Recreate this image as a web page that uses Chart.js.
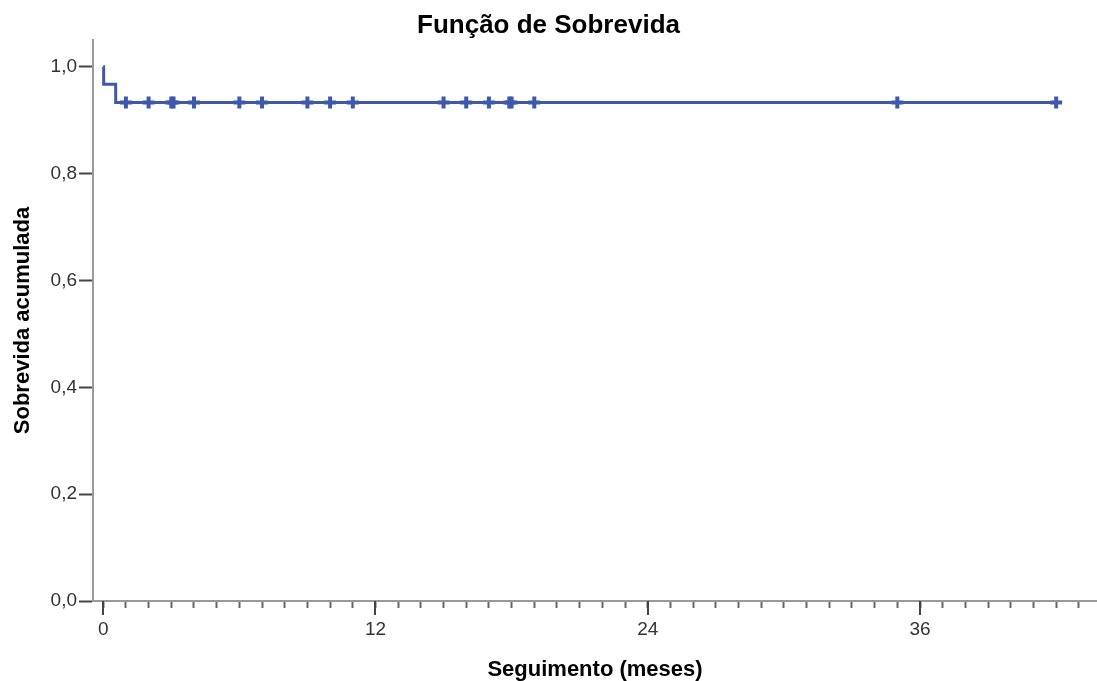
<!DOCTYPE html>
<html>
<head>
<meta charset="utf-8">
<script src="https://cdn.jsdelivr.net/npm/chart.js@4"></script>
<style>
  html, body { margin: 0; padding: 0; background: #fff; }
  #wrap { width: 1097px; height: 681px; }
</style>
</head>
<body>
<div id="wrap"><canvas id="kmChart"></canvas></div>
<script>
// Kaplan-Meier curve (time in months, cumulative survival)
const kmTimes = [0, 0.02, 0.55, 42];
const kmSurvival = [1.0, 0.967, 0.933, 0.933];

// censored observations (+ marks)
const censorTimes = [1, 2, 3, 3.1, 4, 6, 7, 9, 10, 11, 15, 16, 17, 17.9, 18, 19, 35, 42];
const censorSurvival = 0.933;

// axis ticks
const xMajorTicks = [0, 12, 24, 36];
const xMinorMax = 43;
const yTicks = [0, 0.2, 0.4, 0.6, 0.8, 1.0];

const fontFamily = "'Liberation Sans', Arial, sans-serif";
const blue = "#3e58ac";

const majorTickPlugin = {
  id: "majorTicks",
  afterDraw(chart) {
    const sx = chart.scales.x;
    const ctx = chart.ctx;
    ctx.save();
    ctx.strokeStyle = "#444";
    ctx.lineWidth = 2;
    ctx.beginPath();
    xMajorTicks.forEach(v => {
      const px = Math.round(sx.getPixelForValue(v));
      ctx.moveTo(px, sx.top);
      ctx.lineTo(px, sx.top + 14);
    });
    ctx.stroke();
    ctx.restore();
  }
};

new Chart(document.getElementById("kmChart"), {
  type: "scatter",
  data: {
    datasets: [
      {
        type: "line",
        label: "Sobrevida",
        data: kmTimes.map((t, i) => ({ x: t, y: kmSurvival[i] })),
        stepped: "before",
        borderColor: blue,
        borderWidth: 3,
        pointRadius: 0,
        fill: false
      },
      {
        label: "Censurado",
        data: censorTimes.map(t => ({ x: t, y: censorSurvival })),
        pointStyle: "cross",
        pointRadius: 6,
        pointBorderWidth: 4,
        borderColor: blue,
        backgroundColor: blue
      }
    ]
  },
  options: {
    responsive: true,
    maintainAspectRatio: false,
    animation: false,
    layout: { padding: 0, autoPadding: false },
    plugins: {
      legend: { display: false },
      tooltip: { enabled: false },
      title: {
        display: true,
        text: "Função de Sobrevida",
        color: "#000",
        font: { family: fontFamily, size: 26, weight: "bold", lineHeight: 1 },
        padding: { top: 13, bottom: 1 }
      }
    },
    scales: {
      x: {
        type: "linear",
        min: -0.45,
        max: 43.8,
        afterBuildTicks(scale) {
          const t = [];
          for (let v = 0; v <= xMinorMax; v++) t.push({ value: v });
          scale.ticks = t;
        },
        afterFit(scale) {
          scale.height = 80;
          scale.paddingLeft = 0;
          scale.paddingRight = 0;
        },
        grid: {
          drawOnChartArea: false,
          tickLength: 7,
          tickWidth: 2,
          tickColor: "#666"
        },
        border: { color: "#999", width: 2 },
        ticks: {
          autoSkip: false,
          maxRotation: 0,
          padding: 10,
          color: "#333",
          font: { family: fontFamily, size: 19 },
          callback: v => (xMajorTicks.includes(v) ? String(v) : "")
        },
        title: {
          display: true,
          text: "Seguimento (meses)",
          color: "#000",
          font: { family: fontFamily, size: 22, weight: "bold", lineHeight: 1 },
          padding: { top: 0, bottom: 0 }
        }
      },
      y: {
        min: 0,
        max: 1.05,
        afterBuildTicks(scale) {
          scale.ticks = yTicks.map(v => ({ value: v }));
        },
        afterFit(scale) { scale.width = 93; },
        grid: {
          drawOnChartArea: false,
          tickLength: 14,
          tickWidth: 2,
          tickColor: "#444"
        },
        border: { color: "#999", width: 2 },
        ticks: {
          padding: 2,
          color: "#333",
          font: { family: fontFamily, size: 19 },
          callback: v => v.toFixed(1).replace(".", ",")
        },
        title: {
          display: true,
          text: "Sobrevida acumulada",
          color: "#000",
          font: { family: fontFamily, size: 22, weight: "bold", lineHeight: 1.2 },
          padding: { top: 10, bottom: 0 }
        }
      }
    }
  },
  plugins: [majorTickPlugin]
});
</script>
</body>
</html>
